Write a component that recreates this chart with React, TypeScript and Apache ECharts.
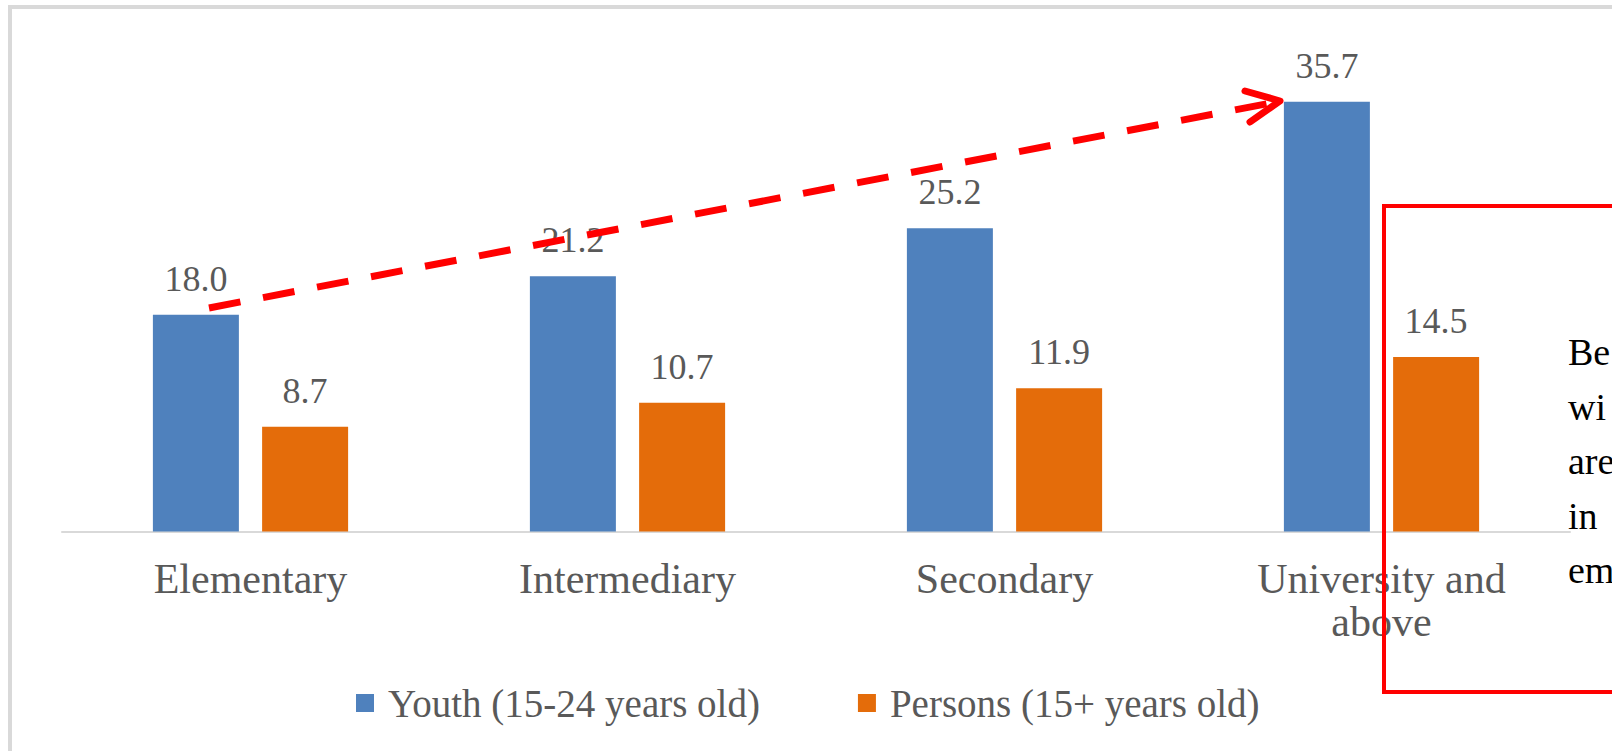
import React, { useEffect, useRef } from "react";
import * as echarts from "echarts";

const categories = ["Elementary", "Intermediary", "Secondary", "University and\nabove"];
const youthValues = [18.0, 21.2, 25.2, 35.7];
const personsValues = [8.7, 10.7, 11.9, 14.5];
const seriesNames = ["Youth (15-24 years old)", "Persons (15+ years old)"];
const sideNoteLines = ["Be", "wi", "are", "in", "em"];

const SERIF = "'Liberation Serif', 'Times New Roman', serif";
const LABEL_GRAY = "#595959";

export default function App() {
  const ref = useRef<HTMLDivElement>(null);

  useEffect(() => {
    if (!ref.current) return;
    const chart = echarts.init(ref.current, undefined, { renderer: "svg" });
    const barLabel = {
      show: true,
      position: "top",
      distance: 18,
      fontFamily: SERIF,
      fontSize: 36,
      lineHeight: 36,
      color: LABEL_GRAY,
      formatter: (p: any) => Number(p.value).toFixed(1),
    };
    chart.setOption({
      animation: false,
      backgroundColor: "#ffffff",
      grid: { left: 62, right: 42, top: 50, bottom: 219.5, containLabel: false },
      xAxis: {
        type: "category",
        data: categories,
        axisLine: { show: true, lineStyle: { color: "#d9d9d9", width: 2 } },
        axisTick: { show: false },
        axisLabel: {
          margin: 26,
          fontFamily: SERIF,
          fontSize: 42,
          lineHeight: 43,
          color: LABEL_GRAY,
          interval: 0,
        },
        splitLine: { show: false },
      },
      yAxis: { type: "value", min: 0, max: 40, show: false, splitLine: { show: false } },
      legend: {
        left: 351,
        top: 678,
        itemWidth: 18,
        itemHeight: 18,
        itemGap: 98,
        icon: "rect",
        data: seriesNames,
        textStyle: {
          fontFamily: SERIF,
          fontSize: 39,
          lineHeight: 40,
          color: LABEL_GRAY,
          padding: [0, 0, 0, 9],
        },
      },
      series: [
        {
          name: seriesNames[0],
          type: "bar",
          data: youthValues,
          barWidth: 86,
          barGap: "27%",
          itemStyle: { color: "#4f81bd" },
          label: barLabel,
        },
        {
          name: seriesNames[1],
          type: "bar",
          data: personsValues,
          barWidth: 86,
          barGap: "27%",
          itemStyle: { color: "#e46c0a" },
          label: barLabel,
        },
      ],
      graphic: [
        {
          type: "rect",
          shape: { x: 10, y: 7, width: 1700, height: 800 },
          style: { fill: "none", stroke: "#d9d9d9", lineWidth: 4 },
          z: 1,
        },
        {
          type: "line",
          shape: { x1: 209, y1: 308, x2: 1276, y2: 102 },
          style: { stroke: "#ff0000", lineWidth: 7, lineDash: [32, 23] },
          z: 100,
        },
        {
          type: "polyline",
          shape: { points: [[1245, 91], [1280, 101], [1250, 122]] },
          style: { stroke: "#ff0000", lineWidth: 7, fill: "none", lineCap: "round", lineJoin: "round" },
          z: 100,
        },
        {
          type: "rect",
          shape: { x: 1384, y: 206, width: 400, height: 486 },
          style: { fill: "none", stroke: "#ff0000", lineWidth: 4 },
          z: 100,
        },
        {
          type: "text",
          left: 1568,
          top: 325,
          style: {
            text: sideNoteLines.join("\n"),
            fontFamily: SERIF,
            fontSize: 38,
            lineHeight: 54.5,
            fill: "#000000",
          },
          z: 100,
        },
      ],
    });
    return () => chart.dispose();
  }, []);

  return (
    <div
      ref={ref}
      style={{ position: "absolute", left: 0, top: 0, width: 1612, height: 751 }}
    />
  );
}
